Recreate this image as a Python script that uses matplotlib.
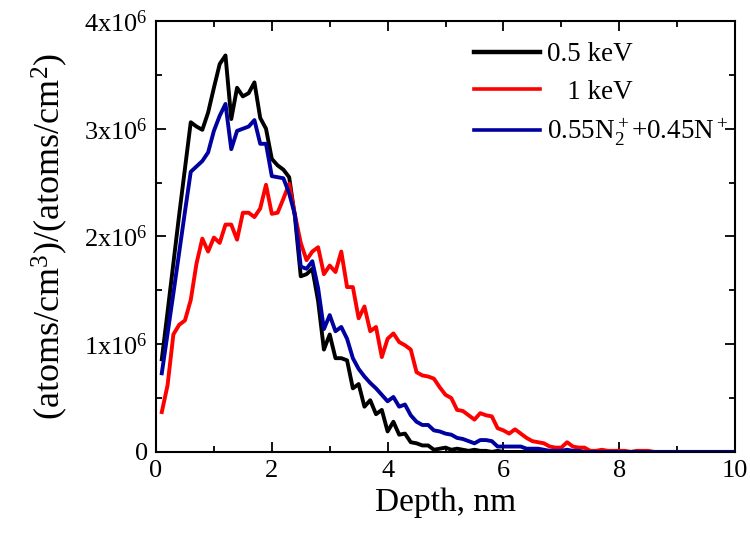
import matplotlib
matplotlib.use('Agg')
import matplotlib.pyplot as plt
from matplotlib.ticker import MultipleLocator, FuncFormatter

plt.rcParams['font.family'] = ['Liberation Serif', 'DejaVu Serif']
plt.rcParams['mathtext.fontset'] = 'custom'
plt.rcParams['mathtext.rm'] = 'Liberation Serif'
plt.rcParams['mathtext.it'] = 'Liberation Serif:italic'

# depth grid, nm (0.1 nm step)
depth = [round(0.1 * (i + 1), 1) for i in range(100)]

# profiles in units of 1e6 (atoms/cm3)/(atoms/cm2)
kev05 = [0.86, 1.30, 1.75, 2.20, 2.63, 3.06, 3.02, 2.99, 3.15, 3.38,
         3.60, 3.68, 3.09, 3.38, 3.30, 3.33, 3.43, 3.10, 3.00, 2.72,
         2.66, 2.62, 2.55, 2.18, 1.63, 1.65, 1.70, 1.40, 0.95, 1.09,
         0.87, 0.87, 0.85, 0.59, 0.63, 0.42, 0.48, 0.35, 0.39, 0.19,
         0.28, 0.16, 0.17, 0.09, 0.08, 0.06, 0.06, 0.02, 0.03, 0.04,
         0.02, 0.03, 0.02, 0.01, 0.02, 0.01, 0.01, 0.00, 0.01, 0.00,
         0.00, 0.00, 0.00, 0.00, 0.00, 0.00, 0.00, 0.00, 0.00, 0.00,
         0.00, 0.00, 0.00, 0.00, 0.00, 0.00, 0.00, 0.00, 0.00, 0.00,
         0.00, 0.00, 0.00, 0.00, 0.00, 0.00, 0.00, 0.00, 0.00, 0.00,
         0.00, 0.00, 0.00, 0.00, 0.00, 0.00, 0.00, 0.00, 0.00, 0.00]

kev1 = [0.37, 0.62, 1.09, 1.18, 1.22, 1.41, 1.75, 1.98, 1.86, 1.99,
        1.94, 2.11, 2.11, 1.97, 2.22, 2.22, 2.18, 2.26, 2.48, 2.21,
        2.22, 2.35, 2.49, 2.20, 1.94, 1.78, 1.86, 1.90, 1.65, 1.73,
        1.67, 1.86, 1.53, 1.53, 1.24, 1.35, 1.12, 1.16, 0.88, 1.05,
        1.10, 1.02, 0.99, 0.95, 0.74, 0.71, 0.70, 0.68, 0.60, 0.53,
        0.50, 0.39, 0.38, 0.34, 0.30, 0.36, 0.34, 0.33, 0.22, 0.20,
        0.17, 0.21, 0.17, 0.13, 0.10, 0.09, 0.08, 0.05, 0.04, 0.04,
        0.09, 0.05, 0.04, 0.04, 0.01, 0.01, 0.02, 0.01, 0.01, 0.01,
        0.01, 0.00, 0.01, 0.01, 0.01, 0.00, 0.00, 0.00, 0.00, 0.00,
        0.00, 0.00, 0.00, 0.00, 0.00, 0.00, 0.00, 0.00, 0.00, 0.00]

mix = [0.73, 1.10, 1.47, 1.85, 2.23, 2.60, 2.65, 2.70, 2.78, 2.98,
       3.12, 3.23, 2.81, 2.98, 3.00, 3.02, 3.08, 2.86, 2.86, 2.56,
       2.55, 2.54, 2.40, 2.20, 1.72, 1.70, 1.77, 1.52, 1.14, 1.27,
       1.12, 1.16, 1.05, 0.87, 0.77, 0.70, 0.64, 0.59, 0.53, 0.47,
       0.51, 0.42, 0.44, 0.34, 0.28, 0.25, 0.25, 0.20, 0.19, 0.17,
       0.16, 0.13, 0.12, 0.10, 0.08, 0.11, 0.11, 0.10, 0.05, 0.05,
       0.05, 0.05, 0.05, 0.03, 0.03, 0.03, 0.02, 0.01, 0.01, 0.01,
       0.02, 0.01, 0.01, 0.00, 0.00, 0.00, 0.00, 0.00, 0.00, 0.00,
       0.00, 0.00, 0.00, 0.00, 0.00, 0.00, 0.00, 0.00, 0.00, 0.00,
       0.00, 0.00, 0.00, 0.00, 0.00, 0.00, 0.00, 0.00, 0.00, 0.00]

labels = ['0.5 keV', '   1 keV', r'0.55N$_2^+$+0.45N$^+$']
colors = ['black', 'red', '#0000a0']

fig = plt.figure(figsize=(7.5, 5.38), dpi=100)
ax = fig.add_axes([0.208, 0.16, 0.772, 0.801])

for y, lab, c in zip([kev05, kev1, mix], labels, colors):
    ax.plot(depth, [v * 1e6 for v in y], color=c, lw=2.8, label=lab)

ax.set_xlim(0, 10)
ax.set_ylim(0, 4e6)
ax.xaxis.set_major_locator(MultipleLocator(2))
ax.xaxis.set_minor_locator(MultipleLocator(1))
ax.yaxis.set_major_locator(MultipleLocator(1e6))
ax.yaxis.set_minor_locator(MultipleLocator(0.5e6))


def yfmt(v, pos):
    if v == 0:
        return '0'
    return '%dx10$^6$' % round(v / 1e6)


ax.yaxis.set_major_formatter(FuncFormatter(yfmt))
ax.tick_params(which='both', direction='in', top=True, right=True,
               width=1.3, labelsize=19)
ax.tick_params(which='major', length=7, pad=6)
ax.tick_params(which='minor', length=4)
for s in ax.spines.values():
    s.set_linewidth(1.5)

ax.set_xlabel('Depth, nm', fontsize=24, labelpad=4)
ax.set_ylabel('(atoms/cm$^3$)/(atoms/cm$^2$)', fontsize=26, labelpad=10)

leg = ax.legend(loc='upper left', bbox_to_anchor=(0.521, 0.988), frameon=False,
                fontsize=19.5, handlelength=2.45, handletextpad=0.25,
                labelspacing=0.45, borderaxespad=0.2)
leg.get_lines()[0].set_linewidth(3.2)
leg.get_lines()[1].set_linewidth(2.6)
leg.get_lines()[2].set_linewidth(2.6)

fig.savefig('out.png', dpi=100)
